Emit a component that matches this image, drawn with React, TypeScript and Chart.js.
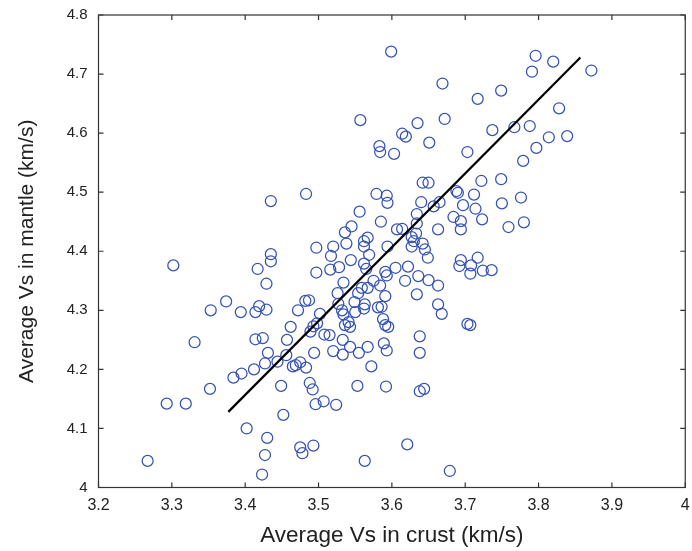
import React, { useEffect, useRef } from "react";
import { Chart, registerables } from "chart.js";

Chart.register(...registerables);

// Average Vs in crust (km/s)
const crustVs: number[] = [
  3.599, 3.669, 3.717, 3.749, 3.557, 3.635, 3.672, 3.737, 3.614, 3.619,
  3.651, 3.583, 3.584, 3.603, 3.703, 3.796, 3.820, 3.791, 3.872, 3.828,
  3.767, 3.788, 3.814, 3.839, 3.797, 3.779, 3.749, 3.776, 3.750, 3.780,
  3.759, 3.642, 3.650, 3.722, 3.483, 3.579, 3.593, 3.594, 3.688, 3.690,
  3.712, 3.640, 3.665, 3.657, 3.697, 3.556, 3.634, 3.714, 3.684, 3.694,
  3.723, 3.694, 3.663, 3.585, 3.545, 3.536, 3.607, 3.614, 3.634, 3.633,
  3.538, 3.520, 3.497, 3.567, 3.562, 3.562, 3.594, 3.627, 3.630, 3.627,
  3.642, 3.645, 3.649, 3.517, 3.544, 3.569, 3.562, 3.565, 3.528, 3.516,
  3.497, 3.605, 3.622, 3.591, 3.593, 3.694, 3.692, 3.717, 3.708, 3.707,
  3.724, 3.736, 3.636, 3.618, 3.650, 3.663, 3.534, 3.575, 3.584, 3.559,
  3.567, 3.526, 3.487, 3.482, 3.554, 3.549, 3.591, 3.634, 3.663, 3.668,
  3.527, 3.563, 3.562, 3.586, 3.581, 3.550, 3.532, 3.534, 3.502, 3.588,
  3.541, 3.536, 3.543, 3.498, 3.493, 3.591, 3.595, 3.703, 3.707, 3.435,
  3.302, 3.435, 3.435, 3.417, 3.429, 3.374, 3.353, 3.394, 3.414, 3.419,
  3.429, 3.472, 3.462, 3.331, 3.414, 3.424, 3.457, 3.431, 3.456, 3.427,
  3.444, 3.469, 3.465, 3.412, 3.395, 3.384, 3.352, 3.449, 3.293, 3.319,
  3.452, 3.402, 3.430, 3.427, 3.267, 3.423, 3.489, 3.508, 3.515, 3.638,
  3.533, 3.543, 3.567, 3.589, 3.593, 3.520, 3.533, 3.555, 3.494, 3.638,
  3.475, 3.483, 3.572, 3.488, 3.492, 3.553, 3.592, 3.638, 3.644, 3.496,
  3.507, 3.524, 3.475, 3.478, 3.493, 3.621, 3.563, 3.679,
];

// Average Vs in mantle (km/s)
const mantleVs: number[] = [
  4.738, 4.684, 4.658, 4.672, 4.622, 4.617, 4.624, 4.605, 4.599, 4.594,
  4.584, 4.578, 4.568, 4.565, 4.568, 4.731, 4.721, 4.704, 4.706, 4.642,
  4.610, 4.612, 4.593, 4.595, 4.575, 4.553, 4.522, 4.491, 4.481, 4.449,
  4.441, 4.516, 4.516, 4.519, 4.497, 4.497, 4.494, 4.482, 4.502, 4.499,
  4.496, 4.483, 4.483, 4.476, 4.478, 4.467, 4.463, 4.472, 4.458, 4.451,
  4.454, 4.437, 4.437, 4.450, 4.442, 4.432, 4.437, 4.438, 4.447, 4.430,
  4.413, 4.408, 4.406, 4.423, 4.417, 4.408, 4.408, 4.424, 4.417, 4.408,
  4.413, 4.403, 4.389, 4.392, 4.385, 4.394, 4.379, 4.370, 4.373, 4.369,
  4.364, 4.372, 4.374, 4.365, 4.359, 4.385, 4.375, 4.389, 4.376, 4.362,
  4.367, 4.368, 4.358, 4.350, 4.351, 4.342, 4.347, 4.350, 4.342, 4.338,
  4.338, 4.329, 4.317, 4.316, 4.329, 4.314, 4.324, 4.327, 4.310, 4.294,
  4.311, 4.310, 4.303, 4.306, 4.305, 4.297, 4.300, 4.293, 4.294, 4.285,
  4.280, 4.275, 4.272, 4.278, 4.273, 4.275, 4.272, 4.277, 4.275, 4.485,
  4.376, 4.395, 4.383, 4.370, 4.345, 4.315, 4.300, 4.297, 4.297, 4.307,
  4.301, 4.300, 4.272, 4.246, 4.251, 4.253, 4.250, 4.228, 4.224, 4.210,
  4.213, 4.207, 4.205, 4.200, 4.193, 4.186, 4.167, 4.172, 4.142, 4.142,
  4.123, 4.100, 4.084, 4.055, 4.045, 4.022, 4.264, 4.259, 4.258, 4.256,
  4.250, 4.238, 4.238, 4.244, 4.232, 4.231, 4.225, 4.228, 4.228, 4.228,
  4.212, 4.203, 4.205, 4.177, 4.166, 4.172, 4.171, 4.163, 4.167, 4.141,
  4.146, 4.140, 4.068, 4.058, 4.071, 4.073, 4.045, 4.028,
];

// Fitted line end points
const fitX: number[] = [3.377, 3.857];
const fitY: number[] = [4.128, 4.728];

const xTicks: number[] = [3.2, 3.3, 3.4, 3.5, 3.6, 3.7, 3.8, 3.9, 4.0];
const yTicks: number[] = [4.0, 4.1, 4.2, 4.3, 4.4, 4.5, 4.6, 4.7, 4.8];

const AXIS_COLOR = "#333333";
const TEXT_COLOR = "#222222";
const MARKER_COLOR = "#3452b4";
const FONT = "'Liberation Sans', Arial, sans-serif";

const boxPlugin = {
  id: "matlabBox",
  afterDatasetsDraw(chart: any) {
    const { ctx, chartArea, scales } = chart;
    const { left, right, top, bottom } = chartArea;
    const xs = scales.x;
    const ys = scales.y;
    const tl = 5;
    ctx.save();
    ctx.strokeStyle = AXIS_COLOR;
    ctx.lineWidth = 1.2;
    ctx.strokeRect(left, top, right - left, bottom - top);
    ctx.beginPath();
    xTicks.forEach((v) => {
      const px = xs.getPixelForValue(v);
      ctx.moveTo(px, bottom);
      ctx.lineTo(px, bottom - tl);
      ctx.moveTo(px, top);
      ctx.lineTo(px, top + tl);
    });
    yTicks.forEach((v) => {
      const py = ys.getPixelForValue(v);
      ctx.moveTo(left, py);
      ctx.lineTo(left + tl, py);
      ctx.moveTo(right, py);
      ctx.lineTo(right - tl, py);
    });
    ctx.stroke();
    ctx.restore();
  },
};

const fmt = (v: number | string) => String(Math.round(Number(v) * 10) / 10);

export default function App() {
  const ref = useRef<HTMLCanvasElement | null>(null);

  useEffect(() => {
    if (!ref.current) return;
    const points = crustVs.map((x, i) => ({ x, y: mantleVs[i] }));
    const line = fitX.map((x, i) => ({ x, y: fitY[i] }));
    const chart = new Chart(ref.current, {
      type: "scatter",
      data: {
        datasets: [
          {
            type: "line",
            data: line,
            borderColor: "#000000",
            borderWidth: 2.2,
            pointRadius: 0,
            fill: false,
          } as any,
          {
            data: points,
            pointStyle: "circle",
            pointRadius: 5.5,
            pointBorderWidth: 1.25,
            pointBorderColor: MARKER_COLOR,
            pointBackgroundColor: "rgba(0,0,0,0)",
            borderColor: MARKER_COLOR,
            backgroundColor: "rgba(0,0,0,0)",
          } as any,
        ],
      },
      options: {
        animation: false,
        responsive: true,
        maintainAspectRatio: false,
        layout: { padding: { left: 0, right: 2.5, top: 15, bottom: 0 } },
        plugins: {
          legend: { display: false },
          tooltip: { enabled: false },
        },
        scales: {
          x: {
            type: "linear",
            min: 3.2,
            max: 4.0,
            grid: { display: false, drawTicks: false },
            border: { display: false },
            afterBuildTicks: (s: any) => {
              s.ticks = xTicks.map((v) => ({ value: v }));
            },
            afterFit: (s: any) => {
              s.height = 63.5;
              s.paddingLeft = 0;
              s.paddingRight = 0;
            },
            ticks: {
              color: TEXT_COLOR,
              font: { family: FONT, size: 16 },
              padding: 8,
              maxRotation: 0,
              autoSkip: false,
              callback: (v: any) => fmt(v),
            },
            title: {
              display: true,
              text: "Average Vs in crust (km/s)",
              color: TEXT_COLOR,
              font: { family: FONT, size: 22.5 },
              padding: { top: 0, bottom: 1.5 },
            },
          },
          y: {
            type: "linear",
            min: 4.0,
            max: 4.8,
            grid: { display: false, drawTicks: false },
            border: { display: false },
            afterBuildTicks: (s: any) => {
              s.ticks = yTicks.map((v) => ({ value: v }));
            },
            afterFit: (s: any) => {
              s.width = 98.5;
              s.paddingTop = 0;
              s.paddingBottom = 0;
            },
            ticks: {
              color: TEXT_COLOR,
              font: { family: FONT, size: 15 },
              padding: 11,
              autoSkip: false,
              callback: (v: any) => fmt(v),
            },
            title: {
              display: true,
              text: "Average Vs in mantle (km/s)",
              color: TEXT_COLOR,
              font: { family: FONT, size: 21 },
              padding: { top: 14.5, bottom: 0 },
            },
          },
        },
      } as any,
      plugins: [boxPlugin],
    });
    return () => chart.destroy();
  }, []);

  return (
    <div
      style={{
        position: "absolute",
        left: 0,
        top: 0,
        width: 692,
        height: 551,
        background: "#ffffff",
      }}
    >
      <canvas ref={ref} />
    </div>
  );
}
